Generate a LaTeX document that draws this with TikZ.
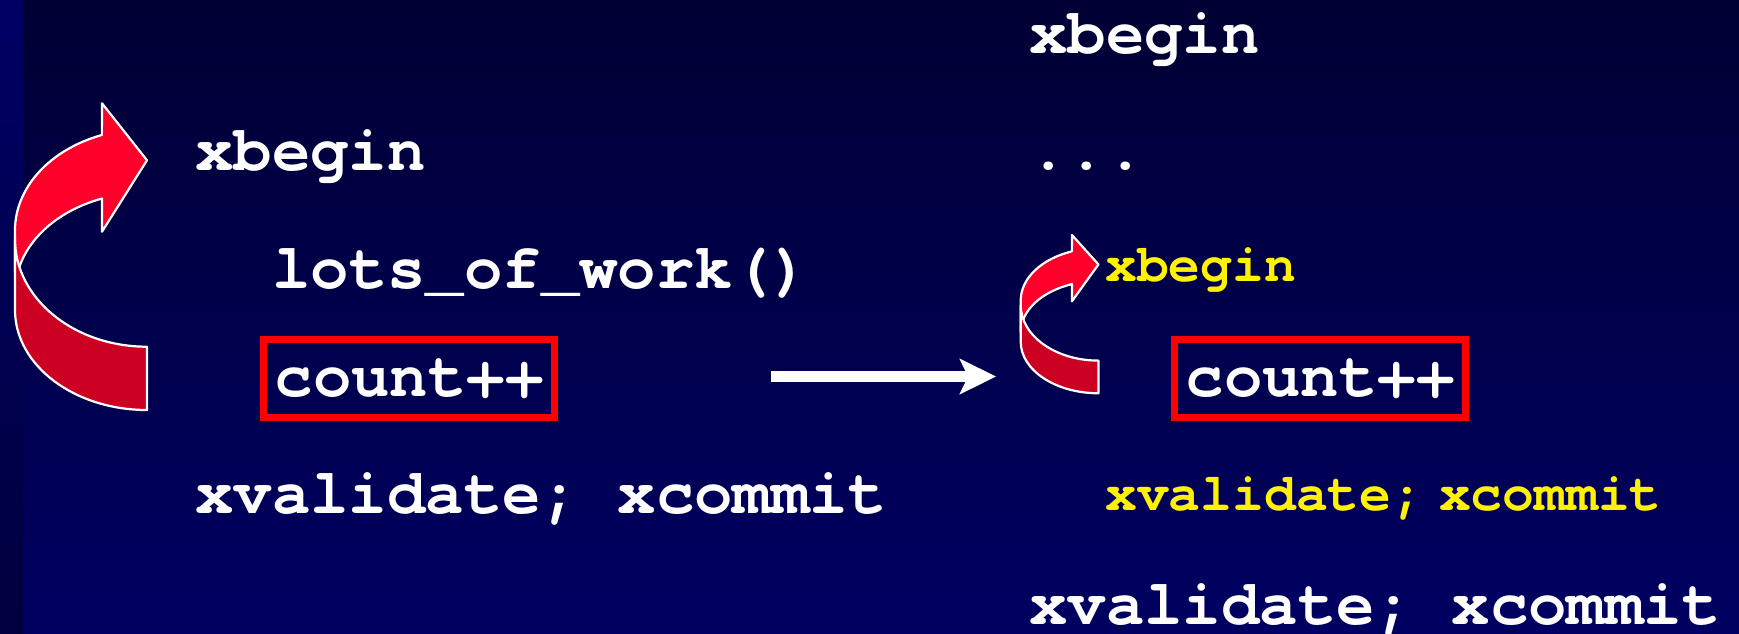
\documentclass[tikz,border=0pt]{standalone}
\usepackage{fontspec}
\setmonofont{TeX Gyre Cursor}
\usetikzlibrary{arrows.meta}

\definecolor{slidetop}{RGB}{0,0,52}
\definecolor{slidebot}{RGB}{0,0,98}
\definecolor{striptop}{RGB}{0,0,100}
\definecolor{stripbot}{RGB}{0,0,62}
\definecolor{redfront}{RGB}{255,0,42}
\definecolor{redback}{RGB}{204,0,34}
\definecolor{boxred}{RGB}{255,0,0}

% U-turn arrow, drawn in a 132 x 307 frame (y grows downwards)
\tikzset{
    uturn/.pic={
        % front half with the head
        \draw[band, fill=redfront] (0,127)
            arc[start angle=180, end angle=250, x radius=132, y radius=101.4]
            -- (87,0) -- (132,57) -- (87,128.4) -- (87,95.2)
            arc[start angle=250, end angle=180, x radius=132, y radius=99.4]
            -- cycle;
        % back half, lies over the front one
        \draw[band, fill=redback] (0,136) -- (0,206.7)
            arc[start angle=180, end angle=90, x radius=132, y radius=100]
            -- (132,243.4)
            arc[start angle=90, end angle=180, x radius=132, y radius=107.4]
            -- cycle;
    }
}

\begin{document}
\begin{tikzpicture}[
        x=1pt, y=-1pt,
        code/.style={font=\fontsize{64}{64}\selectfont\ttfamily\bfseries,
            text=white, inner sep=0pt, anchor=base west},
        inner/.style={code, font=\fontsize{53}{53}\selectfont\ttfamily\bfseries,
            text=yellow},
        box/.style={draw=boxred, line width=6.6pt, anchor=center,
            minimum width=291.4pt, minimum height=78.4pt},
        band/.style={draw=white, line width=2.2pt, line join=round}
    ]
    \useasboundingbox (0,0) rectangle (1739,633);

    % --- BACKGROUND ---
    \shade[top color=slidetop, bottom color=slidebot] (0,0) rectangle (1739,633);
    \shade[top color=striptop, bottom color=stripbot] (0,0) rectangle (23,633);

    % --- LEFT: plain transaction ---
    \pic at (15,103.3) {uturn};
    \node[code] (xb) at (195,170) {xbegin};
    \node[code] (work) at (272,288) {lots\_of\_work()};
    \node[code, box] (cnt) at (409,378.5) {count++};
    \node[code] (commit) at (195,513) {xvalidate; xcommit};

    % --- ARROW ---
    \coordinate (go) at (771,376.5);
    \coordinate (gone) at (996,376.5);
    \draw[white, line width=11.6pt,
        -{Stealth[length=36pt, width=35pt, inset=8pt]}] (go) -- (gone);

    % --- RIGHT: nested transaction ---
    \node[code] (xbR) at (1029,53) {xbegin};
    \node[code] (dots) at (1029,169) {...};
    \pic[xscale=0.589, yscale=0.516] at (1020.7,235) {uturn};
    \node[inner] (xbIn) at (1105,281) {xbegin};
    \node[code, box] (cntR) at (1320,378.5) {count++};
    \node[inner] (commitIn) at (1105,510) {xvalidate;\hspace{.3em}xcommit};
    \node[code] (commitR) at (1029,624) {xvalidate; xcommit};
\end{tikzpicture}
\end{document}
